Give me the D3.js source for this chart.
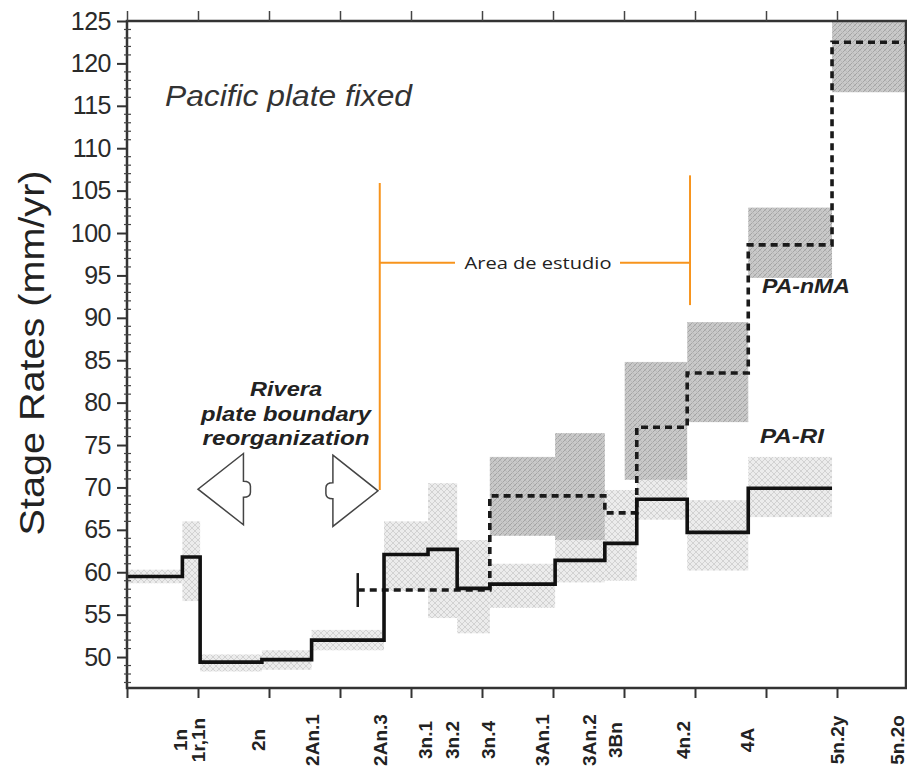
<!DOCTYPE html>
<html><head><meta charset="utf-8">
<script src="https://cdn.jsdelivr.net/npm/d3@7"></script>
<style>body{margin:0;background:#fff}svg{display:block}</style>
</head><body>
<script>
// ---------- data ----------
const yTicks = [50,55,60,65,70,75,80,85,90,95,100,105,110,115,120,125];
const xTicks = [0,1,2,3,4,5,6,7,8,9,10,11];
const chronLabels = ["1n","1r,1n","2n","2An.1","2An.3","3n.1","3n.2","3n.4","3An.1","3An.2","3Bn","4n.2","4A","5n.2y","5n.2o"];
const chronAges   = [0.75,1.0,1.85,2.6,3.56,4.2,4.58,5.08,5.84,6.5,6.87,7.83,8.73,10.0,10.84];

// PA-RI stage rates (solid)
const riBreaks = [0,0.78,1.03,1.90,2.60,3.62,4.24,4.65,5.11,6.03,6.73,7.18,7.89,8.75,9.93];
const riRates  = [59.5,61.8,49.4,49.7,52.0,62.1,62.7,58.1,58.6,61.4,63.4,68.6,64.7,69.9];
const riLow    = [58.7,56.6,48.3,48.5,50.8,57.8,54.6,52.8,55.8,58.8,59.0,66.2,60.2,66.5];
const riHigh   = [60.3,66.0,50.3,50.8,53.2,66.0,70.5,63.8,61.0,64.5,69.7,71.0,68.5,73.6];

// PA-nMA stage rates (dashed)
const nmaBreaks = [3.25,5.11,6.73,7.18,7.89,8.75,9.93,11.0];
const nmaRates  = [57.9,69.0,67.0,77.1,83.5,98.6,122.5];
const nmaBoxStart = [5.11,6.03,7.01,7.89,8.75,9.93];
const nmaBoxEnd   = [6.03,6.73,7.89,8.75,9.93,11.0];
const nmaLow      = [64.3,63.8,70.9,77.7,94.7,116.6];
const nmaHigh     = [73.6,76.4,84.8,89.5,103.0,125.0];
const nmaStartBar = [55.9,59.9];

// annotation (study area)
const areaAges = [3.56,7.93];
const areaTop = [105.9,106.8];
const areaBottom = [69.7,91.5];
const areaLabelRate = 96.5;

// ---------- layout ----------
const W=907,H=768;
const svg=d3.select("body").append("svg").attr("width",W).attr("height",H);
const x=d3.scaleLinear().domain([0,11]).range([127,908]);
const y=d3.scaleLinear().domain([46.35,125]).range([688,21]);

const defs=svg.append("defs");
const dark=defs.append("pattern").attr("id","dark").attr("width",5).attr("height",5).attr("patternUnits","userSpaceOnUse");
dark.append("rect").attr("width",5).attr("height",5).attr("fill","#c9c9c9");
dark.append("path").attr("d","M0,5L5,0M-1,1L1,-1M4,6L6,4").attr("stroke","#a4a4a4").attr("stroke-width",1);
dark.append("path").attr("d","M0,0L5,5").attr("stroke","#b6b6b6").attr("stroke-width",0.8);
const light=defs.append("pattern").attr("id","light").attr("width",6).attr("height",6).attr("patternUnits","userSpaceOnUse");
light.append("rect").attr("width",6).attr("height",6).attr("fill","#ececec");
light.append("path").attr("d","M0,6L6,0M0,0L6,6").attr("stroke","#d2d2d2").attr("stroke-width",1);
defs.append("clipPath").attr("id","plot").append("rect").attr("x",127).attr("y",21).attr("width",780).attr("height",667);

const g=svg.append("g").attr("clip-path","url(#plot)");

// light boxes PA-RI
g.selectAll(".lb").data(riRates).enter().append("rect")
  .attr("x",(d,i)=>x(riBreaks[i]))
  .attr("width",(d,i)=>x(i+1<riBreaks.length?riBreaks[i+1]:9.93)-x(riBreaks[i]))
  .attr("y",(d,i)=>y(riHigh[i]))
  .attr("height",(d,i)=>y(riLow[i])-y(riHigh[i]))
  .attr("fill","url(#light)");
// dark boxes PA-nMA
g.selectAll(".db").data(nmaLow).enter().append("rect")
  .attr("x",(d,i)=>x(nmaBoxStart[i]))
  .attr("width",(d,i)=>x(nmaBoxEnd[i])-x(nmaBoxStart[i]))
  .attr("y",(d,i)=>y(nmaHigh[i]))
  .attr("height",(d,i)=>y(nmaLow[i])-y(nmaHigh[i]))
  .attr("fill","url(#dark)");

function stepPts(breaks,rates){
  const pts=rates.map((r,i)=>[breaks[i],r]);
  pts.push([breaks[breaks.length-1], rates[rates.length-1]]);
  return pts;
}
const riEnd = 9.93;
const riPts = riRates.map((r,i)=>[riBreaks[i],r]); riPts.push([riEnd,riRates[riRates.length-1]]);
const line=d3.line().x(d=>x(d[0])).y(d=>y(d[1])).curve(d3.curveStepAfter);

g.append("path").attr("d",line(stepPts(nmaBreaks,nmaRates))).attr("fill","none")
  .attr("stroke","#1a1a1a").attr("stroke-width",3.6).attr("stroke-dasharray","7,5");
g.append("line").attr("x1",x(nmaBreaks[0])).attr("x2",x(nmaBreaks[0]))
  .attr("y1",y(nmaStartBar[0])).attr("y2",y(nmaStartBar[1])).attr("stroke","#1a1a1a").attr("stroke-width",2.5);
g.append("path").attr("d",line(riPts)).attr("fill","none")
  .attr("stroke","#111").attr("stroke-width",3.6).attr("stroke-linejoin","miter");

// ---------- axes / frame ----------
const ax=svg.append("g");
ax.append("rect").attr("x",127).attr("y",21).attr("width",779).attr("height",667)
  .attr("fill","none").attr("stroke","#333").attr("stroke-width",2.5);
const yAxis=d3.axisLeft(y).tickValues(yTicks).tickSize(10).tickFormat(d3.format("d"));
const ya=ax.append("g").attr("transform","translate(127,0)").call(yAxis);
ya.select(".domain").remove();
ya.selectAll("line").attr("stroke","#333").attr("stroke-width",2);
ya.selectAll("text").attr("font-family","Liberation Sans, Arial, sans-serif").attr("font-size",25)
  .attr("fill","#2a2a2a").attr("x",-16).attr("letter-spacing","-0.5");
const minor=d3.range(47,125,1).filter(v=>v%5!==0);
ax.selectAll(".mt").data(minor).enter().append("line")
  .attr("x1",124).attr("x2",131).attr("y1",d=>y(d)).attr("y2",d=>y(d)).attr("stroke","#444").attr("stroke-width",1.2);
const xb=ax.append("g").attr("transform","translate(0,688)").call(d3.axisBottom(x).tickValues(xTicks).tickSize(10).tickFormat(""));
xb.select(".domain").remove(); xb.selectAll("line").attr("stroke","#333").attr("stroke-width",2);
const xt=ax.append("g").attr("transform","translate(0,21)").call(d3.axisTop(x).tickValues(xTicks).tickSize(10).tickFormat(""));
xt.select(".domain").remove(); xt.selectAll("line").attr("stroke","#444").attr("stroke-width",1.5);

// chron labels
ax.selectAll(".cl").data(chronLabels).enter().append("text")
  .attr("transform",(d,i)=>`translate(${x(chronAges[i])+7},740) rotate(-90)`)
  .attr("text-anchor","middle").attr("font-family","Liberation Sans, Arial, sans-serif")
  .attr("font-weight","bold").attr("font-size",19).attr("fill","#222").text(d=>d);

// y label
svg.append("text").attr("transform","translate(44,353) rotate(-90)").attr("text-anchor","middle")
  .attr("font-family","Liberation Sans, Arial, sans-serif").attr("font-size",35).attr("fill","#222")
  .attr("textLength",365).attr("lengthAdjust","spacingAndGlyphs").text("Stage Rates (mm/yr)");

// texts
svg.append("text").attr("x",165).attr("y",106).attr("font-family","Liberation Sans, Arial, sans-serif")
  .attr("font-style","italic").attr("font-size",29).attr("fill","#333")
  .attr("textLength",247).attr("lengthAdjust","spacingAndGlyphs").text("Pacific plate fixed");
const riv=[["Rivera",396,72],["plate boundary",421,170],["reorganization",445,167]];
svg.selectAll(".rv").data(riv).enter().append("text").attr("x",286).attr("y",d=>d[1])
  .attr("text-anchor","middle").attr("font-family","Liberation Sans, Arial, sans-serif")
  .attr("font-style","italic").attr("font-weight","bold").attr("font-size",21).attr("fill","#222")
  .attr("textLength",d=>d[2]).attr("lengthAdjust","spacingAndGlyphs").text(d=>d[0]);
svg.append("text").attr("x",762).attr("y",293).attr("font-family","Liberation Sans, Arial, sans-serif")
  .attr("font-style","italic").attr("font-weight","bold").attr("font-size",21).attr("fill","#222")
  .attr("textLength",88).attr("lengthAdjust","spacingAndGlyphs").text("PA-nMA");
svg.append("text").attr("x",760).attr("y",443).attr("font-family","Liberation Sans, Arial, sans-serif")
  .attr("font-style","italic").attr("font-weight","bold").attr("font-size",21).attr("fill","#222")
  .attr("textLength",64).attr("lengthAdjust","spacingAndGlyphs").text("PA-RI");

// arrows (hollow)
function arrow(tipAge,backAge,rate,half,dir){
  const tx=x(tipAge),bx=x(backAge),cy=y(rate),h=y(rate-half)-cy,t=7*dir;
  return `M${bx},${cy-h}L${tx},${cy}L${bx},${cy+h}L${bx},${cy+8}Q${bx+t},${cy+8} ${bx+t},${cy+3}L${bx+t},${cy-3}Q${bx+t},${cy-8} ${bx},${cy-8}Z`;
}
svg.append("path").attr("d",arrow(1.0,1.64,69.8,4.2,1)).attr("fill","#fff").attr("stroke","#444").attr("stroke-width",1.5);
svg.append("path").attr("d",arrow(3.535,2.9,69.6,4.2,-1)).attr("fill","#fff").attr("stroke","#444").attr("stroke-width",1.5);

// study area annotation
const orange="#f7941d";
const an=svg.append("g").attr("stroke",orange).attr("stroke-width",2);
an.selectAll(".v").data(areaAges).enter().append("line")
  .attr("x1",d=>x(d)).attr("x2",d=>x(d)).attr("y1",(d,i)=>y(areaTop[i])).attr("y2",(d,i)=>y(areaBottom[i]));
an.append("line").attr("x1",x(areaAges[0])).attr("x2",455).attr("y1",y(areaLabelRate)).attr("y2",y(areaLabelRate));
an.append("line").attr("x1",620).attr("x2",x(areaAges[1])).attr("y1",y(areaLabelRate)).attr("y2",y(areaLabelRate));
svg.append("text").attr("x",538).attr("y",y(areaLabelRate)+6).attr("text-anchor","middle")
  .attr("font-family","Open Sans, Noto Sans, sans-serif").attr("font-size",16).attr("fill","#222")
  .attr("textLength",147).attr("lengthAdjust","spacingAndGlyphs").text("Area de estudio");
</script>
</body></html>
